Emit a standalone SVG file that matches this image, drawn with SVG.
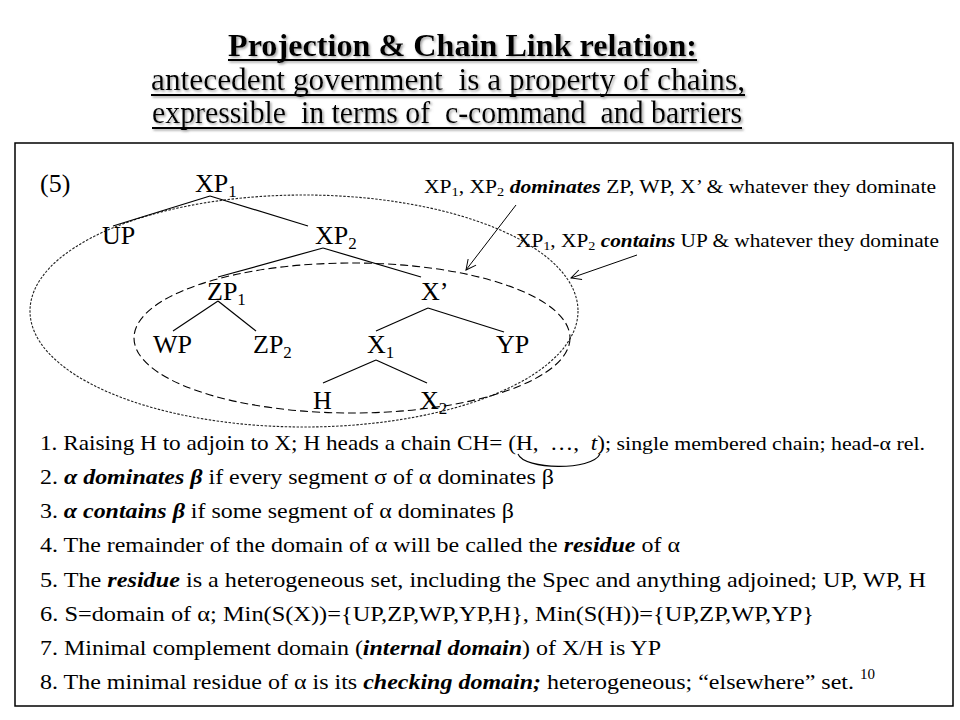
<svg xmlns="http://www.w3.org/2000/svg" width="960" height="720" viewBox="0 0 960 720" font-family="'Liberation Serif', 'Times New Roman', serif">
<defs>
<style>
text{font-family:"Liberation Serif","Times New Roman",serif;fill:#000}
.title{font-size:32px}
.tb{font-weight:bold}
.node{font-size:26px}
.sub{font-size:17px}
.ann{font-size:18px}
.asub{font-size:12px}
.body{font-size:22px}
.bi{font-weight:bold;font-style:italic}
.edge{stroke:#000;stroke-width:1.2;fill:none}
.arrow{stroke:#000;stroke-width:1;fill:none;marker-end:url(#open)}
.uline{stroke:#000;stroke-width:2}
</style>
<marker id="open" viewBox="0 0 12 12" refX="11" refY="6" markerWidth="12" markerHeight="12" markerUnits="userSpaceOnUse" orient="auto">
<path d="M1 1 L11 6 L1 11" fill="none" stroke="#000" stroke-width="1"/>
</marker>
<filter id="shadow" x="-5%" y="-20%" width="110%" height="150%">
<feDropShadow dx="1.5" dy="1.5" stdDeviation="0.8" flood-color="#888" flood-opacity="0.8"/>
</filter>
</defs>
<rect width="960" height="720" fill="#fff"/>

<g id="title" filter="url(#shadow)">
<text class="title tb" x="228" y="56" textLength="469" lengthAdjust="spacingAndGlyphs">Projection &amp; Chain Link relation:</text>
<line class="uline" x1="228" y1="60" x2="697" y2="60"/>
<text class="title" x="151" y="90" textLength="594" lengthAdjust="spacingAndGlyphs" xml:space="preserve">antecedent government  is a property of chains,</text>
<line class="uline" x1="151" y1="95" x2="745" y2="95"/>
<text class="title" x="152" y="123" textLength="590" lengthAdjust="spacingAndGlyphs" xml:space="preserve">expressible  in terms of  c-command  and barriers</text>
<line class="uline" x1="152" y1="128" x2="742" y2="128"/>
</g>

<rect id="frame" x="15" y="143" width="938" height="563" fill="none" stroke="#000" stroke-width="1.5"/>

<g id="regions">
<ellipse id="outer-region" cx="304" cy="311" rx="274" ry="116" fill="none" stroke="#222" stroke-width="1.1" stroke-dasharray="2.5 1.5"/>
<ellipse id="inner-region" cx="352" cy="338" rx="218" ry="75" fill="none" stroke="#000" stroke-width="1.1" stroke-dasharray="8 4"/>
</g>

<g id="connectors">
<line class="edge" x1="210" y1="196" x2="113" y2="226"/>
<line class="edge" x1="210" y1="196" x2="308" y2="226"/>
<line class="edge" x1="323" y1="248" x2="218" y2="277"/>
<line class="edge" x1="323" y1="248" x2="421" y2="277"/>
<line class="edge" x1="218" y1="301" x2="173" y2="331"/>
<line class="edge" x1="218" y1="301" x2="256" y2="331"/>
<line class="edge" x1="428" y1="308" x2="376" y2="331"/>
<line class="edge" x1="428" y1="308" x2="504" y2="332"/>
<line class="edge" x1="376" y1="360" x2="323" y2="383"/>
<line class="edge" x1="376" y1="360" x2="427" y2="383"/>
<line class="arrow" x1="516" y1="205" x2="466" y2="270"/>
<line class="arrow" x1="637" y1="255" x2="571" y2="278"/>
<path d="M518 454 C524 470 592 471 600 454" fill="none" stroke="#000" stroke-width="1.1"/>
</g>

<g id="label-5"><text class="node" x="40" y="192">(5)</text></g>
<g id="node-XP1"><text class="node" x="195" y="192">XP<tspan class="sub" dy="5">1</tspan></text></g>
<g id="node-UP"><text class="node" x="102" y="244">UP</text></g>
<g id="node-XP2"><text class="node" x="315" y="244">XP<tspan class="sub" dy="5">2</tspan></text></g>
<g id="node-ZP1"><text class="node" x="207" y="300">ZP<tspan class="sub" dy="5">1</tspan></text></g>
<g id="node-Xbar"><text class="node" x="421" y="300">X’</text></g>
<g id="node-WP"><text class="node" x="153" y="353">WP</text></g>
<g id="node-ZP2"><text class="node" x="253" y="353">ZP<tspan class="sub" dy="5">2</tspan></text></g>
<g id="node-X1"><text class="node" x="367" y="353">X<tspan class="sub" dy="5">1</tspan></text></g>
<g id="node-YP"><text class="node" x="496" y="353">YP</text></g>
<g id="node-H"><text class="node" x="313" y="409">H</text></g>
<g id="node-X2"><text class="node" x="420" y="409">X<tspan class="sub" dy="5">2</tspan></text></g>

<g id="annotations">
<text class="ann" x="424" y="193" textLength="512" lengthAdjust="spacingAndGlyphs">XP<tspan class="asub" dy="3">1</tspan><tspan dy="-3">, XP</tspan><tspan class="asub" dy="3">2</tspan><tspan dy="-3"> </tspan><tspan class="bi">dominates</tspan> ZP, WP, X’ &amp; whatever they dominate</text>
<text class="ann" x="516" y="247" textLength="423" lengthAdjust="spacingAndGlyphs">XP<tspan class="asub" dy="3">1</tspan><tspan dy="-3">, XP</tspan><tspan class="asub" dy="3">2</tspan><tspan dy="-3"> </tspan><tspan class="bi">contains</tspan> UP &amp; whatever they dominate</text>
</g>

<g id="definitions">
<text class="body" x="40" y="450" textLength="565" lengthAdjust="spacingAndGlyphs" xml:space="preserve">1. Raising H to adjoin to X; H heads a chain CH= (H,  …,  <tspan font-style="italic">t</tspan>)</text>
<text x="605" y="450" font-size="18" textLength="320" lengthAdjust="spacingAndGlyphs">; single membered chain; head-α rel.</text>
<text class="body" x="40" y="484" textLength="514" lengthAdjust="spacingAndGlyphs">2. <tspan class="bi">α dominates β</tspan> if every segment σ of α dominates β</text>
<text class="body" x="40" y="518" textLength="474" lengthAdjust="spacingAndGlyphs">3. <tspan class="bi">α contains β</tspan> if some segment of α dominates β</text>
<text class="body" x="40" y="552" textLength="640" lengthAdjust="spacingAndGlyphs">4. The remainder of the domain of α will be called the <tspan class="bi">residue</tspan> of α</text>
<text class="body" x="40" y="587" textLength="886" lengthAdjust="spacingAndGlyphs">5. The <tspan class="bi">residue</tspan> is a heterogeneous set, including the Spec and anything adjoined; UP, WP, H</text>
<text class="body" x="40" y="621" textLength="774" lengthAdjust="spacingAndGlyphs">6. S=domain of α; Min(S(X))={UP,ZP,WP,YP,H}, Min(S(H))={UP,ZP,WP,YP}</text>
<text class="body" x="40" y="655" textLength="621" lengthAdjust="spacingAndGlyphs">7. Minimal complement domain (<tspan class="bi">internal domain</tspan>) of X/H is YP</text>
<text class="body" x="40" y="689" textLength="814" lengthAdjust="spacingAndGlyphs">8. The minimal residue of α is its <tspan class="bi">checking domain;</tspan> heterogeneous; “elsewhere” set.</text>
<text x="860" y="679" font-size="15">10</text>
</g>
</svg>
